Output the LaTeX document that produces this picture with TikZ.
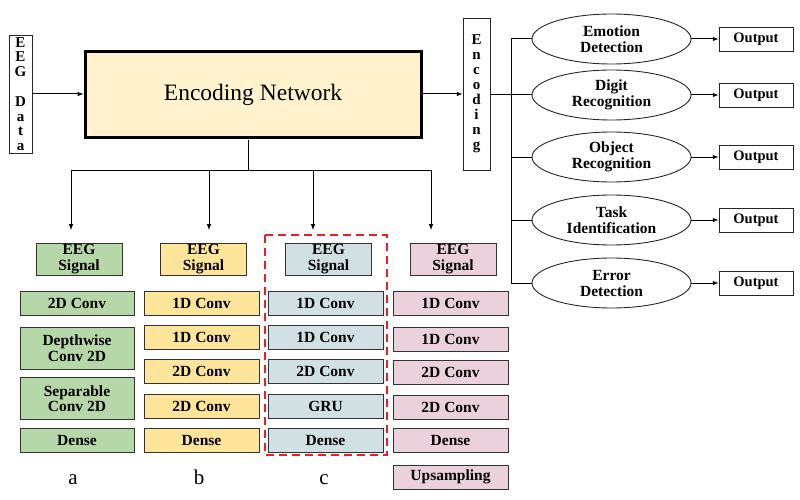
\documentclass[tikz,border=0pt]{standalone}
\usepackage{fontspec}
\setmainfont{Liberation Serif}
\usepackage{xcolor}
\usetikzlibrary{arrows,shapes.geometric,positioning}
\definecolor{netfill}{HTML}{FFF2CC}
\definecolor{colA}{HTML}{B6D7A8}
\definecolor{colB}{HTML}{FFE599}
\definecolor{colC}{HTML}{D0E0E3}
\definecolor{colD}{HTML}{EAD1DC}
\definecolor{dashred}{HTML}{EE1C25}

\begin{document}
\begin{tikzpicture}[x=1pt,y=-1pt,>=latex,line width=1pt]
	\tikzstyle{blk}=[draw=black!80, line width=0.9pt, inner sep=0pt, align=center, font=\bfseries\fontsize{15.5}{15.5}\selectfont]
	\tikzstyle{sig}=[blk, minimum width=86, minimum height=32]
	\tikzstyle{lay}=[blk, minimum width=115, minimum height=24]
	\tikzstyle{task}=[ellipse, draw=black!85, line width=0.9pt, minimum width=159, minimum height=50, inner sep=0pt, align=center, font=\bfseries\fontsize{15.5}{16}\selectfont]
	\tikzstyle{outb}=[draw=black!85, line width=0.9pt, minimum width=74, minimum height=24, inner sep=0pt, font=\bfseries\fontsize{14.5}{16}\selectfont]
	\tikzstyle{letters}=[draw=black!85, line width=0.9pt, inner sep=0pt, align=center]
	\tikzstyle{caption}=[anchor=base, font=\fontsize{21}{24}\selectfont]
	\useasboundingbox (0,0) rectangle (800,500);

	% input, network and encoding
	\node[letters, minimum width=23, minimum height=118, font=\bfseries\fontsize{15}{14.8}\selectfont] (eeg) at (20.5,94) {E\\E\\G\\[14.8pt]D\\a\\t\\a};
	\node[draw, line width=3pt, fill=netfill, minimum width=336, minimum height=86, font=\fontsize{23.5}{26}\selectfont] (net) at (253,95) {Encoding Network};
	\node[letters, minimum width=27, minimum height=152, font=\bfseries\fontsize{15}{15}\selectfont] (enc) at (476.5,94) {E\\n\\c\\o\\d\\i\\n\\g};
	\draw[->] (eeg) -- (eeg -| net.west);
	\draw[->] (net.east |- enc) -- (enc);

	% tasks
	\coordinate (hub) at (511,95);
	\draw (enc.east |- hub) -- (hub);
	\foreach \n/\yy/\txt in {1/39/{Emotion\\Detection},2/95/{Digit\\Recognition},3/157/{Object\\Recognition},4/220/{Task\\Identification},5/283/{Error\\Detection}}{
		\node[task] (t\n) at (611.5,\yy) {\txt};
		\node[outb] (o\n) at (756,\yy) {Output};
		\draw[->] (t\n) -- (o\n);
		\draw (hub |- t\n) -- (t\n);
	}
	\draw (hub |- t1) -- (hub |- t5);

	% branches to the four models
	\coordinate (split) at (248,170);
	\coordinate (ta) at (71,230);
	\coordinate (tb) at (209,230);
	\coordinate (tc) at (313,230);
	\coordinate (td) at (431,230);
	\draw (split |- net.south) -- (split);
	\draw (ta |- split) -- (td |- split);
	\foreach \c in {ta,tb,tc,td}{
		\draw[->] (\c |- split) -- (\c);
	}

	% model a
	\node[sig, fill=colA] (sa) at (79,259) {EEG\\Signal};
	\node[lay, fill=colA, minimum width=114] (a1) at (77,303.5) {2D Conv};
	\node[lay, fill=colA, minimum width=114, minimum height=42] (a2) at (77,348) {Depthwise\\Conv 2D};
	\node[lay, fill=colA, minimum width=114, minimum height=42] (a3) at (77,398.5) {Separable\\Conv 2D};
	\node[lay, fill=colA, minimum width=114] (a4) at (77,440) {Dense};

	% model b
	\node[sig, fill=colB] (sb) at (203.5,259) {EEG\\Signal};
	\node[lay, fill=colB] (b1) at (201.5,303.5) {1D Conv};
	\node[lay, fill=colB] (b2) at (201.5,337) {1D Conv};
	\node[lay, fill=colB] (b3) at (201.5,371.5) {2D Conv};
	\node[lay, fill=colB] (b4) at (201.5,406) {2D Conv};
	\node[lay, fill=colB] (b5) at (201.5,440) {Dense};

	% model c
	\node[sig, fill=colC] (sc) at (328.5,259) {EEG\\Signal};
	\node[lay, fill=colC] (c1) at (325.5,303.5) {1D Conv};
	\node[lay, fill=colC] (c2) at (325.5,337) {1D Conv};
	\node[lay, fill=colC] (c3) at (325.5,371.5) {2D Conv};
	\node[lay, fill=colC] (c4) at (325.5,406) {GRU};
	\node[lay, fill=colC] (c5) at (325.5,440) {Dense};
	\draw[dashred, line width=2pt, dash pattern=on 8pt off 5pt] (265,235) rectangle (387,455);

	% model d
	\node[sig, fill=colD] (sd) at (453,259) {EEG\\Signal};
	\node[lay, fill=colD] (d1) at (450.5,303.5) {1D Conv};
	\node[lay, fill=colD] (d2) at (450.5,339) {1D Conv};
	\node[lay, fill=colD] (d3) at (450.5,372.5) {2D Conv};
	\node[lay, fill=colD] (d4) at (450.5,407.5) {2D Conv};
	\node[lay, fill=colD] (d5) at (450.5,440) {Dense};
	\node[lay, fill=colD] (d6) at (450.5,477) {Upsampling};

	% captions
	\node[caption] (la) at (73,484) {a};
	\node[caption] (lb) at (199,484) {b};
	\node[caption] (lc) at (324,484) {c};
\end{tikzpicture}
\end{document}
